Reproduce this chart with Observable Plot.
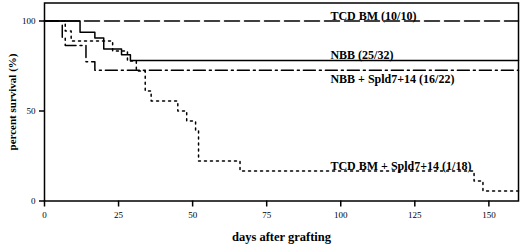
<!DOCTYPE html>
<html>
<head>
<meta charset="utf-8">
<script src="https://cdn.jsdelivr.net/npm/d3@7"></script>
<script src="https://cdn.jsdelivr.net/npm/@observablehq/plot@0.6"></script>
<style>
  html, body { margin: 0; padding: 0; background: white; }
</style>
</head>
<body>
<div id="chart"></div>
<script>
// Kaplan–Meier survival curves (step-after)
const tcdDays = [0, 160];
const tcdSurv = [100, 100];

const nbbDays = [0, 12, 17, 20, 26, 29, 160];
const nbbSurv = [100, 93.75, 90.6, 84.4, 81.25, 78.1, 78.1];

const nbbSpDays = [0, 6, 7, 14, 17, 160];
const nbbSpSurv = [100, 90.9, 86.4, 77.3, 72.7, 72.7];

const tcdSpDays = [0, 7, 9, 23, 28, 31, 34, 36, 45, 48, 51, 52, 66, 145, 148, 160];
const tcdSpSurv = [100, 94.4, 88.9, 83.3, 77.8, 72.2, 61.1, 55.6, 50, 44.4, 38.9, 22.2, 16.7, 11.1, 5.6, 5.6];

const seriesNames = ["TCD BM (10/10)", "NBB (25/32)", "NBB + Spld7+14 (16/22)", "TCD BM + Spld7+14 (1/18)"];
const labelDay = 96.5;
const labelSurv = [100, 78.1, 72.7, 16.7];

const xTicks = [0, 25, 50, 75, 100, 125, 150];
const yTicks = [0, 50, 100];
const xTitle = "days after grafting";
const yTitle = "percent survival (%)";

const toRows = (days, surv) => days.map((d, i) => ({day: d, surv: surv[i]}));
const tcd = toRows(tcdDays, tcdSurv);
const nbb = toRows(nbbDays, nbbSurv);
const nbbSp = toRows(nbbSpDays, nbbSpSurv);
const tcdSp = toRows(tcdSpDays, tcdSpSurv);

const labels = seriesNames.map((n, i) => ({name: n, day: labelDay, surv: labelSurv[i]}));
const labelDy = [-1, -1, 4, -1];
const labelAnchor = ["bottom", "bottom", "top", "bottom"];

const serif = "'Liberation Serif', 'Times New Roman', serif";

const lineOpts = {x: "day", y: "surv", curve: "step-after", stroke: "black", strokeWidth: 1.5};

const chart = Plot.plot({
  width: 520,
  height: 245,
  marginLeft: 44,
  marginRight: 2,
  marginTop: 2.5,
  marginBottom: 44.5,
  x: {domain: [0, 160]},
  y: {domain: [0, 110]},
  style: {fontFamily: serif, fontSize: "9px", background: "white", color: "black"},
  marks: [
    Plot.frame({stroke: "black", strokeWidth: 1.5}),
    Plot.axisX({ticks: xTicks, tickSize: 6, tickPadding: 5, label: null, fontSize: 9, strokeWidth: 1.5}),
    Plot.axisY({ticks: yTicks, tickSize: 5, tickPadding: 4, label: null, fontSize: 9, strokeWidth: 1.5}),
    Plot.line(tcd, {...lineOpts, strokeDasharray: "15,5"}),
    Plot.line(nbb, {...lineOpts}),
    Plot.line(nbbSp, {...lineOpts, strokeDasharray: "12,4,2,4"}),
    Plot.line(tcdSp, {...lineOpts, strokeDasharray: "2,4"}),
    ...labels.map((l, i) => Plot.text([l], {
      x: "day", y: "surv", text: "name", textAnchor: "start",
      lineAnchor: labelAnchor[i], dy: labelDy[i],
      fontSize: 12, fontWeight: "bold", fill: "black"
    })),
    Plot.text([xTitle], {frameAnchor: "bottom", textAnchor: "middle", lineAnchor: "middle", dy: 35.5, text: d => d, fontSize: 12.5, fontWeight: "bold", fill: "black"}),
    Plot.text([yTitle], {frameAnchor: "left", textAnchor: "middle", lineAnchor: "middle", dx: -32, rotate: -90, text: d => d, fontSize: 11, fontWeight: "bold", fill: "black"})
  ]
});
document.getElementById("chart").appendChild(chart);
</script>
</body>
</html>
